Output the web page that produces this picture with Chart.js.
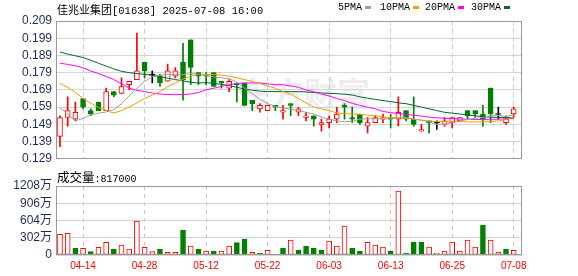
<!DOCTYPE html>
<html>
<head>
<meta charset="utf-8">
<script src="https://cdn.jsdelivr.net/npm/chart.js@4.4.1/dist/chart.umd.min.js"></script>
<style>
    body { margin: 0; background: #fff; }
    #wrap { position: relative; width: 578px; height: 276px; overflow: hidden; background: #fff; }
    canvas { position: absolute; left: 0; }
    .txt { position: absolute; white-space: nowrap; color: #000; line-height: 14px; }
    .cjk { font-family: 'Noto Sans CJK SC'; }
    .mono { font-family: 'Liberation Mono'; }
    .lg { position: absolute; top: 2px; font: 10px 'Liberation Mono'; line-height: 12px; white-space: nowrap; }
    .lg i { display: inline-block; width: 6px; height: 3px; margin-left: 3px; vertical-align: middle; }
</style>
</head>
<body>
<div id="wrap">
    <canvas id="priceChart" width="578" height="170" style="top:0"></canvas>
    <canvas id="volChart" width="578" height="106" style="top:170px"></canvas>
    <div class="txt" style="left:57px;top:2px"><span class="cjk" style="font-size:11px">佳兆业集团</span><span class="mono" style="font-size:10.5px">[01638] 2025-07-08 16:00</span></div>
    <div class="txt" id="volLabel" style="left:57px;top:170px"></div>
    <div id="legend"></div>
</div>
<script>
// trading days shown (MM-DD)
const days = [
    '04-09','04-10','04-11','04-14','04-15','04-16','04-17','04-22','04-23','04-24',
    '04-25','04-28','04-29','04-30','05-02','05-06','05-07','05-08','05-09','05-12',
    '05-13','05-14','05-15','05-16','05-19','05-20','05-21','05-22','05-23','05-26',
    '05-27','05-28','05-29','05-30','06-02','06-03','06-04','06-05','06-06','06-09',
    '06-10','06-11','06-12','06-13','06-16','06-17','06-18','06-19','06-20','06-23',
    '06-24','06-25','06-26','06-27','06-30','07-02','07-03','07-04','07-07','07-08'
];
const tickDays = ['04-14','04-28','05-12','05-22','06-03','06-13','06-25','07-08'];

const open = [
    .142,.153,.152,.164,.157,.162,.157,.168,.167,.172,
    .175,.185,.178,.177,.174,.177,.185,.198,.179,.178,
    .179,.174,.170,.173,.173,.163,.158,.157,.160,.156,
    .161,.156,.153,.154,.149,.150,.152,.160,.153,.155,
    .148,.150,.152,.153,.152,.157,.152,.145,.151,.150,
    .149,.150,.151,.157,.157,.155,.170,.155,.150,.155
];
const high = [
    .154,.165,.162,.164,.158,.162,.170,.168,.176,.174,
    .202,.185,.180,.178,.184,.182,.196,.198,.179,.179,
    .179,.174,.175,.173,.173,.163,.161,.160,.160,.160,
    .161,.159,.156,.154,.152,.154,.159,.161,.159,.155,
    .153,.154,.155,.155,.165,.157,.165,.149,.151,.151,
    .153,.153,.153,.157,.157,.160,.170,.159,.154,.159
];
const low = [
    .136,.148,.151,.158,.154,.157,.157,.165,.167,.169,
    .175,.176,.173,.171,.174,.176,.163,.172,.172,.172,
    .171,.170,.168,.162,.160,.157,.156,.157,.157,.152,
    .154,.154,.151,.148,.145,.147,.150,.152,.150,.149,
    .144,.150,.150,.147,.148,.151,.148,.145,.144,.146,
    .148,.147,.151,.152,.153,.148,.150,.152,.149,.153
];
const close = [
    .153,.157,.156,.159,.155,.157,.168,.166,.171,.174,
    .180,.180,.178,.173,.180,.180,.175,.182,.177,.177,
    .171,.173,.174,.172,.160,.161,.160,.160,.159,.157,
    .160,.158,.154,.152,.150,.152,.155,.159,.152,.150,
    .150,.153,.153,.152,.156,.152,.149,.146,.150,.150,
    .151,.153,.153,.154,.155,.152,.155,.155,.152,.158
];

const ma5 = [
    .1585,.155,.151,.1525,.1545,.1555,.1562,.1575,.161,.1655,
    .170,.174,.1765,.1775,.178,.178,.1778,.1785,.178,.1775,
    .1765,.176,.1755,.1736,.170,.1668,.1635,.161,.1595,.1585,
    .1578,.157,.156,.155,.1533,.152,.151,.1505,.1508,.152,
    .1523,.1522,.1521,.1522,.153,.153,.152,.1515,.1505,.149,
    .149,.150,.151,.1518,.1525,.153,.1538,.1542,.1535,.1545
];
const ma10 = [
    .1728,.1705,.1675,.164,.1612,.1588,.157,.1556,.157,.159,
    .1615,.164,.166,.168,.171,.173,.1753,.177,.178,.178,
    .178,.1775,.177,.176,.175,.174,.1728,.1712,.170,.168,
    .1665,.164,.1615,.159,.158,.157,.1556,.1553,.155,.1548,
    .1544,.154,.1532,.153,.1528,.1525,.152,.1514,.151,.1506,
    .1506,.1506,.1506,.1505,.1504,.1504,.1505,.151,.1518,.1532
];
const ma20 = [
    .1845,.1838,.183,.1818,.180,.1785,.1768,.175,.1725,.170,
    .1688,.168,.1672,.1666,.1663,.1662,.1663,.1666,.1675,.169,
    .170,.171,.172,.1727,.173,.173,.173,.1725,.172,.172,
    .1713,.1705,.169,.168,.1665,.1655,.164,.1628,.1612,.160,
    .159,.158,.1565,.1558,.1553,.1547,.1543,.1538,.1532,.1528,
    .1525,.1523,.1521,.152,.1518,.1518,.152,.152,.1522,.1525
];
const ma30 = [
    .191,.1898,.1888,.1878,.1862,.1845,.1828,.1812,.1798,.179,
    .1785,.178,.1775,.1768,.1758,.175,.1742,.1735,.173,.1732,
    .1728,.1722,.1715,.1705,.1695,.1688,.1683,.168,.168,.168,
    .168,.168,.1678,.1675,.1672,.167,.1668,.1665,.166,.165,
    .1642,.1635,.1628,.1622,.1615,.161,.160,.159,.158,.157,
    .156,.1555,.155,.1545,.154,.1535,.1532,.153,.153,.1528
];

// volume in 万股, and whether the bar is drawn as an up (red) day
const volume = [
    362,379,117,117,58,134,222,105,175,105,
    595,134,58,105,47,47,438,158,105,70,
    70,70,158,216,280,47,35,82,18,123,
    263,88,158,123,88,245,158,508,123,70,
    222,175,140,70,1120,35,228,228,140,35,
    70,228,70,263,140,525,263,53,105,81.7
];
const volUp = [
    1,1,0,1,0,1,1,0,1,1,
    1,1,1,0,1,1,0,1,0,1,
    0,1,1,0,0,1,0,1,0,0,
    1,0,0,0,0,1,1,1,0,0,
    1,1,1,0,1,0,0,0,1,1,
    1,1,1,1,1,0,1,1,0,1
];

const priceTicks = [0.129, 0.139, 0.149, 0.159, 0.169, 0.179, 0.189, 0.199, 0.209];
const volTicks = [0, 302, 604, 906, 1208];

const maNames = ['5PMA', '10PMA', '20PMA', '30PMA'];
const maColors = ['#a0a0a0', '#f0a000', '#ff00ff', '#006633'];

const RED = '#ff0000';
const GREEN = '#008000';
const AXIS_TEXT = '#1f2a5a';
const X_MIN = -0.52, X_MAX = 60.08;
const tickIdx = tickDays.map(d => days.indexOf(d));

// legend + volume caption as html text
const legendLeft = [338, 380, 425, 471];
document.getElementById('legend').innerHTML = maNames.map((n, k) =>
    `<span class="lg" style="left:${legendLeft[k]}px">${n}<i style="background:${maColors[k]}"></i></span>`).join('');
document.getElementById('volLabel').innerHTML =
    '<span class="cjk" style="font-size:12.5px">成交量</span><span class="mono" style="font-size:10px">:' +
    Math.round(volume[volume.length - 1] * 10000) + '</span>';

const candleColor = i => close[i] > open[i] ? RED : (close[i] < open[i] ? GREEN : '#000');

// grey frame around the plot area
const framePlugin = {
    id: 'frame',
    afterDatasetsDraw(chart) {
        const a = chart.chartArea, ctx = chart.ctx;
        ctx.save();
        ctx.strokeStyle = '#999';
        ctx.lineWidth = 1;
        ctx.strokeRect(Math.round(a.left) + 0.5, Math.round(a.top) + 0.5,
            Math.round(a.right - a.left) - 1, Math.round(a.bottom - a.top) - 1);
        ctx.restore();
    }
};

const watermarkPlugin = {
    id: 'watermark',
    beforeDraw(chart) {
        const ctx = chart.ctx;
        ctx.save();
        ctx.font = 'bold 33px "Noto Sans CJK SC"';
        ctx.fillStyle = 'rgba(60,60,90,0.09)';
        ctx.textBaseline = 'middle';
        ctx.fillText('东方财富', 238, 93);
        ctx.restore();
    }
};

const xScale = (showLabels) => ({
    type: 'linear',
    min: X_MIN,
    max: X_MAX,
    offset: false,
    afterBuildTicks: ax => { ax.ticks = tickIdx.map(v => ({ value: v })); },
    afterFit: ax => { ax.height = showLabels ? 21 : 0; },
    ticks: {
        display: showLabels,
        autoSkip: false,
        maxRotation: 0,
        padding: 5,
        color: RED,
        font: { family: 'Liberation Sans', size: 10 },
        callback: (v, i) => tickDays[i]
    },
    grid: { color: '#c8c8c8', drawTicks: false, offset: false },
    border: { display: false, dash: [4, 4] }
});

const yScale = (ticksArr, fmt, family) => ({
    min: ticksArr[0],
    max: ticksArr[ticksArr.length - 1],
    afterBuildTicks: ax => { ax.ticks = ticksArr.map(v => ({ value: v })); },
    afterFit: ax => { ax.width = 56; },
    ticks: {
        autoSkip: false,
        padding: 4,
        color: AXIS_TEXT,
        font: { family: family, size: 12 },
        callback: fmt
    },
    grid: { color: '#d4d4d4', drawTicks: false },
    border: { display: false }
});

const maSets = [ma5, ma10, ma20, ma30].map((arr, k) => ({
    type: 'line',
    label: maNames[k],
    data: arr.map((v, i) => ({ x: i, y: v })),
    borderColor: maColors[k],
    borderWidth: 1,
    pointRadius: 0,
    tension: 0,
    order: 0
}));

const dojiIdx = open.map((o, i) => i).filter(i => open[i] === close[i]);

new Chart(document.getElementById('priceChart'), {
    type: 'bar',
    data: {
        datasets: [
            ...maSets,
            {
                type: 'line',
                label: 'doji',
                data: dojiIdx.map(i => ({ x: i, y: open[i] })),
                showLine: false,
                pointStyle: 'line',
                pointRadius: 3,
                borderColor: '#000',
                borderWidth: 1,
                order: 1
            },
            {
                label: 'body',
                data: open.map((o, i) => ({ x: i, y: [o, close[i]] })),
                backgroundColor: open.map((o, i) => close[i] > o ? '#fff' : candleColor(i)),
                borderColor: open.map((o, i) => candleColor(i)),
                borderWidth: 1,
                borderSkipped: false,
                barThickness: 5,
                grouped: false,
                order: 2
            },
            {
                label: 'wick',
                data: low.map((l, i) => ({ x: i, y: [l, high[i]] })),
                backgroundColor: low.map((l, i) => candleColor(i)),
                borderWidth: 0,
                barThickness: 1,
                grouped: false,
                order: 3
            }
        ]
    },
    options: {
        responsive: false,
        animation: false,
        events: [],
        layout: { padding: { top: 21, right: 56, bottom: 5, left: 0 } },
        plugins: { legend: { display: false }, tooltip: { enabled: false } },
        scales: {
            x: xScale(false),
            y: yScale(priceTicks, v => v.toFixed(3), 'Liberation Sans')
        }
    },
    plugins: [watermarkPlugin, framePlugin]
});

new Chart(document.getElementById('volChart'), {
    type: 'bar',
    data: {
        datasets: [{
            label: 'volume',
            data: volume.map((v, i) => ({ x: i, y: v })),
            backgroundColor: volUp.map(u => u ? '#fff' : GREEN),
            borderColor: volUp.map(u => u ? RED : GREEN),
            borderWidth: 1,
            borderSkipped: false,
            barThickness: 5
        }]
    },
    options: {
        responsive: false,
        animation: false,
        events: [],
        layout: { padding: { top: 16, right: 56, bottom: 0, left: 0 } },
        plugins: { legend: { display: false }, tooltip: { enabled: false } },
        scales: {
            x: xScale(true),
            y: yScale(volTicks, v => v === 0 ? '0' : v + '万', "'Liberation Sans', 'Noto Sans CJK SC'")
        }
    },
    plugins: [framePlugin]
});
</script>
</body>
</html>
